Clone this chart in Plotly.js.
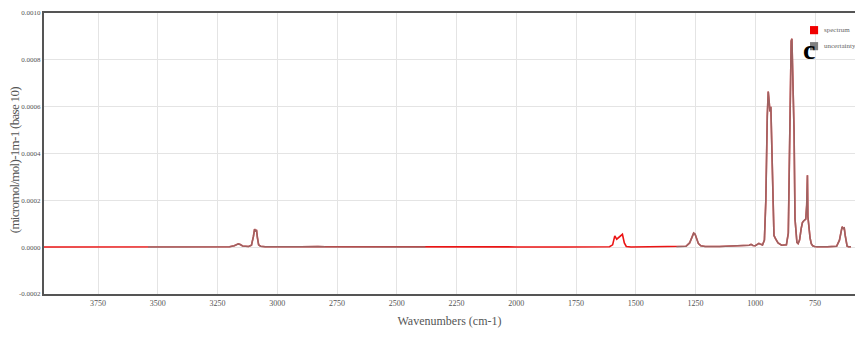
<!DOCTYPE html>
<html>
<head>
<meta charset="utf-8">
<script src="https://cdn.plot.ly/plotly-3.0.1.min.js"></script>
<style>
  html, body { margin: 0; padding: 0; background: #fff; }
  #chart { width: 855px; height: 337px; }
</style>
</head>
<body>
<div id="chart"></div>
<script>
// Wavenumber grid (cm-1), high to low
const wavenumbers = [
  3976, 3800, 3600, 3541, 3400, 3200, 3180, 3170, 3163, 3155, 3145, 3120,
  3108, 3100, 3095, 3091, 3087, 3083, 3078, 3070, 3050, 2900, 2860, 2845,
  2830, 2800, 2600, 2380, 2200, 2000, 1800, 1650, 1610, 1597, 1588, 1580,
  1572, 1564, 1556, 1548, 1540, 1520, 1400, 1330, 1290, 1275, 1266, 1258,
  1252, 1246, 1238, 1228, 1210, 1150, 1100, 1040, 1025, 1018, 1010, 1000,
  992, 985, 977, 970, 962, 956, 950, 946, 942, 939, 935, 931, 927, 922,
  915, 905, 890, 870, 862, 858, 854, 850, 847, 844, 842, 838, 834, 830,
  826, 821, 815, 808, 803, 798, 793, 789, 785, 782, 780, 778, 775, 771,
  766, 760, 752, 740, 700, 660, 648, 642, 637, 632, 628, 624, 620, 616,
  610, 600, 583
];

// Absorption coefficient, (micromol/mol)-1 m-1 (base 10)
const spectrum = [
  0.000001, 0.000001, 0.000001, 0.000001, 0.000001, 0.000002, 0.000006, 0.000011, 0.000014, 0.000011, 0.000005, 0.000003,
  0.000008, 0.000045, 0.000077, 0.000068, 0.000074, 0.000040, 0.000010, 0.000004, 0.000002, 0.000002, 0.000003, 0.000005,
  0.000003, 0.000002, 0.000001, 0.000001, 0.000001, 0.000001, 0.000001, 0.000001, 0.000002, 0.000010, 0.000048, 0.000034,
  0.000042, 0.000050, 0.000055, 0.000018, 0.000003, 0.000001, 0.000001, 0.000002, 0.000004, 0.000018, 0.000045, 0.000060,
  0.000055, 0.000035, 0.000015, 0.000006, 0.000003, 0.000003, 0.000004, 0.000005, 0.000008, 0.000012, 0.000007, 0.000006,
  0.000010, 0.000016, 0.000012, 0.000009, 0.000030, 0.000200, 0.000560, 0.000665, 0.000620, 0.000580, 0.000600, 0.000420,
  0.000150, 0.000050, 0.000035, 0.000018, 0.000008, 0.000010, 0.000060, 0.000350, 0.000700, 0.000880, 0.000890, 0.000760,
  0.000720, 0.000500, 0.000120, 0.000040, 0.000020, 0.000015, 0.000030, 0.000080, 0.000105, 0.000112, 0.000115, 0.000120,
  0.000180, 0.000307, 0.000130, 0.000105, 0.000080, 0.000040, 0.000015, 0.000006, 0.000003, 0.000002, 0.000002, 0.000004,
  0.000030, 0.000070, 0.000087, 0.000080, 0.000082, 0.000050, 0.000012, 0.000004, 0.000002, 0.000002
];

// Uncertainty trace: follows the spectrum where it is reported, gaps elsewhere
const uncertainty = [
  null, null, null, 0.000001, 0.000001, 0.000002, 0.000006, 0.000011, 0.000014, 0.000011, 0.000005, 0.000003,
  0.000008, 0.000045, 0.000077, 0.000068, 0.000074, 0.000040, 0.000010, 0.000004, 0.000002, 0.000002, 0.000003, 0.000005,
  0.000003, 0.000002, 0.000001, 0.000001, null, null, null, null, null, null, null, null,
  null, null, null, null, null, null, null, 0.000002, 0.000004, 0.000018, 0.000045, 0.000060,
  0.000055, 0.000035, 0.000015, 0.000006, 0.000003, 0.000003, 0.000004, 0.000005, 0.000008, 0.000012, 0.000007, 0.000006,
  0.000010, 0.000016, 0.000012, 0.000009, 0.000030, 0.000200, 0.000560, 0.000665, 0.000620, 0.000580, 0.000600, 0.000420,
  0.000150, 0.000050, 0.000035, 0.000018, 0.000008, 0.000010, 0.000060, 0.000350, 0.000700, 0.000880, 0.000890, 0.000760,
  0.000720, 0.000500, 0.000120, 0.000040, 0.000020, 0.000015, 0.000030, 0.000080, 0.000105, 0.000112, 0.000115, 0.000120,
  0.000180, 0.000307, 0.000130, 0.000105, 0.000080, 0.000040, 0.000015, 0.000006, 0.000003, 0.000002, 0.000002, 0.000004,
  0.000030, 0.000070, 0.000087, 0.000080, 0.000082, 0.000050, 0.000012, 0.000004, 0.000002, 0.000002
];

const seriesNames = ['spectrum', 'uncertainty'];
const swatchColors = ['rgb(240,0,0)', 'rgb(128,128,128)'];
const xTicks = [3750, 3500, 3250, 3000, 2750, 2500, 2250, 2000, 1750, 1500, 1250, 1000, 750];
const yTicks = [-0.0002, 0.0, 0.0002, 0.0004, 0.0006, 0.0008, 0.0010];
const yTitle = '(micromol/mol)-1m-1 (base 10)';

const RED = 'rgb(235,20,20)';
const GREY = 'rgba(128,128,128,0.72)';
const serif = '"Liberation Serif", "DejaVu Serif", serif';

const traces = [
  { x: wavenumbers, y: spectrum, type: 'scatter', mode: 'lines', name: seriesNames[0],
    line: { color: RED, width: 1.6 }, hoverinfo: 'skip' },
  { x: wavenumbers, y: uncertainty, type: 'scatter', mode: 'lines', name: seriesNames[1],
    line: { color: GREY, width: 1.6 }, connectgaps: false, hoverinfo: 'skip' }
];

// Compact key in the top-right corner: a square swatch and a label per series
const keyX = 0.9495, keyTextX = 0.959, keyRowY = [0.939, 0.882], half = 0.005, halfY = 0.0145;
const shapes = seriesNames.map((n, i) => ({
  type: 'rect', xref: 'paper', yref: 'paper',
  x0: keyX - half, x1: keyX + half, y0: keyRowY[i] - halfY, y1: keyRowY[i] + halfY,
  fillcolor: swatchColors[i], line: { width: 0 }
}));
const keyLabels = seriesNames.map((n, i) => ({
  xref: 'paper', yref: 'paper', x: keyTextX, y: keyRowY[i], xanchor: 'left', yanchor: 'middle',
  text: n, showarrow: false, font: { family: serif, size: 7, color: '#666' }
}));

const layout = {
  width: 855, height: 337,
  margin: { l: 44, r: 0, t: 13, b: 43, autoexpand: false },
  paper_bgcolor: '#fff', plot_bgcolor: '#fff',
  font: { family: serif, color: '#555' },
  showlegend: false,
  xaxis: {
    range: [3976, 583], tickvals: xTicks, ticktext: xTicks.map(String),
    showgrid: true, gridcolor: '#e4e4e4', gridwidth: 1, zeroline: false,
    showline: true, linecolor: '#555', linewidth: 2, mirror: true,
    ticks: '', tickfont: { size: 8, color: '#555' },
    title: { text: 'Wavenumbers (cm-1)', font: { size: 12, color: '#555' }, standoff: 10 }
  },
  yaxis: {
    range: [-0.0002, 0.0010], tickvals: yTicks, ticktext: yTicks.map(v => v.toFixed(4)),
    showgrid: true, gridcolor: '#e4e4e4', gridwidth: 1, zeroline: false,
    showline: true, linecolor: '#555', linewidth: 2,
    ticks: '', tickfont: { size: 7, color: '#555' },
    title: { text: yTitle, font: { size: 13, color: '#555' }, standoff: 0 }
  },
  shapes: shapes,
  annotations: keyLabels.concat([
    { xref: 'paper', yref: 'paper', x: 0.953, y: 0.871, yanchor: 'middle', text: '<b>c</b>',
      showarrow: false, font: { family: serif, size: 28, color: '#000' } }
  ])
};

Plotly.newPlot('chart', traces, layout, { displayModeBar: false, staticPlot: true }).then(gd => {
  // set the y-axis title to a fixed run length and centre it beside the tick labels
  const g = gd.querySelector('.g-ytitle');
  const t = g && g.querySelector('text');
  if (!t) return;
  const runLength = 146, centreX = 15, centreY = 160;
  const r0 = t.getBoundingClientRect();
  const spacing = (runLength - r0.height) / yTitle.length;
  t.style.letterSpacing = spacing.toFixed(2) + 'px';
  const r1 = t.getBoundingClientRect();
  const dx = centreX - (r1.left + r1.width / 2);
  const dy = centreY - (r1.top + r1.height / 2);
  g.setAttribute('transform', 'translate(' + dx.toFixed(1) + ',' + dy.toFixed(1) + ')');
});
</script>
</body>
</html>
